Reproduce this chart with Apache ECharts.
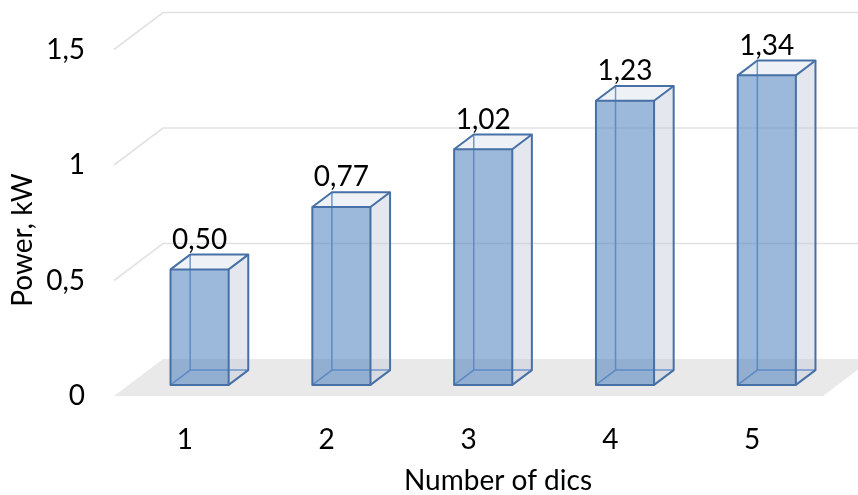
<!DOCTYPE html>
<html>
<head>
<meta charset="utf-8">
<script src="https://cdn.jsdelivr.net/npm/echarts@6/dist/echarts.min.js"></script>
<style>
  html, body { margin: 0; padding: 0; background: #fff; }
  #chart { width: 858px; height: 495px; }
</style>
</head>
<body>
<div id="chart"></div>
<script>
// Discs vs. power
const categories = ['1', '2', '3', '4', '5'];
const power = [0.50, 0.77, 1.02, 1.23, 1.34];
const yTicks = [0, 0.5, 1, 1.5];

// Pseudo-3D layout: a full-depth offset of the floor, and where the boxes sit in it
const DEPTH = [49, -37];
const BAR_FRONT = 0.3;
const BAR_BACK = 0.7;
const BAR_WIDTH_RATIO = 0.41;
const FONT = 'Lato';

const comma = v => String(v).replace('.', ',');

function shift(p, t) {
  return [p[0] + DEPTH[0] * t, p[1] + DEPTH[1] * t];
}

function renderFloor(params, api) {
  const cs = params.coordSys;
  const y0 = api.coord([0, 0])[1];
  const fl = [cs.x, y0], fr = [cs.x + cs.width, y0];
  return {
    type: 'polygon',
    shape: { points: [fl, fr, shift(fr, 1), shift(fl, 1)] },
    style: { fill: '#e9e9e9' }
  };
}

function renderGridLine(params, api) {
  const cs = params.coordSys;
  const y = api.coord([0, api.value(1)])[1];
  const a = [cs.x, y];
  const b = shift(a, 1);
  return {
    type: 'polyline',
    shape: { points: [a, b, [cs.x + cs.width + DEPTH[0], b[1]]] },
    style: { stroke: '#e2e2e2', lineWidth: 1.6, fill: null }
  };
}

function renderBox(params, api) {
  const i = api.value(0), v = api.value(1);
  const top = api.coord([i, v]);
  const base = api.coord([i, 0]);
  const half = api.size([1, 0])[0] * BAR_WIDTH_RATIO / 2;
  const x0 = top[0] - half, x1 = top[0] + half;

  const FLB = shift([x0, base[1]], BAR_FRONT), FRB = shift([x1, base[1]], BAR_FRONT);
  const FRT = shift([x1, top[1]], BAR_FRONT), FLT = shift([x0, top[1]], BAR_FRONT);
  const BLB = shift([x0, base[1]], BAR_BACK), BRB = shift([x1, base[1]], BAR_BACK);
  const BRT = shift([x1, top[1]], BAR_BACK), BLT = shift([x0, top[1]], BAR_BACK);

  const edge = { stroke: '#4670a6', lineWidth: 2, fill: null, lineJoin: 'round' };
  const inner = { stroke: '#6f97cc', lineWidth: 1.5, fill: null };

  return {
    type: 'group',
    children: [
      { type: 'polygon', shape: { points: [FRB, BRB, BRT, FRT] },
        style: { fill: 'rgba(196,202,214,0.45)' } },
      { type: 'polygon', shape: { points: [FLT, FRT, BRT, BLT] },
        style: { fill: 'rgba(200,208,222,0.3)' } },
      { type: 'polyline', shape: { points: [FLB, BLB, BRB] }, style: inner },
      { type: 'polyline', shape: { points: [BLB, BLT] }, style: inner },
      { type: 'polygon', shape: { points: [FLB, FRB, FRT, FLT] },
        style: { fill: 'rgba(79,129,189,0.56)' } },
      { type: 'polygon', shape: { points: [FLB, FRB, FRT, FLT] }, style: edge },
      { type: 'polyline', shape: { points: [FLT, BLT, BRT, FRT] }, style: edge },
      { type: 'polyline', shape: { points: [BRT, BRB, FRB] }, style: edge },
      { type: 'text',
        style: {
          text: api.value(1).toFixed(2).replace('.', ','),
          x: (FLT[0] + FRT[0]) / 2, y: BLT[1] - 1,
          align: 'center', verticalAlign: 'bottom',
          fontSize: 28, fontFamily: FONT, fill: '#000'
        } }
    ]
  };
}

const chart = echarts.init(document.getElementById('chart'), null, { renderer: 'canvas' });
chart.setOption({
  animation: false,
  textStyle: { fontFamily: FONT },
  grid: { left: 114, right: 35, top: 49.5, bottom: 99, containLabel: false },
  xAxis: {
    type: 'category',
    data: categories,
    boundaryGap: true,
    axisLine: { show: false },
    axisTick: { show: false },
    splitLine: { show: false },
    axisLabel: { fontSize: 28, color: '#000', margin: 30, fontFamily: FONT }
  },
  yAxis: {
    type: 'value',
    min: 0, max: 1.5, interval: 0.5,
    axisLine: { show: false },
    axisTick: { show: false },
    splitLine: { show: false },
    axisLabel: { fontSize: 28, color: '#000', margin: 29, fontFamily: FONT, formatter: comma }
  },
  graphic: [
    { type: 'text', x: 498, y: 481,
      style: { text: 'Number of dics', fontSize: 28, fontFamily: FONT, fill: '#000',
               align: 'center', verticalAlign: 'middle' } },
    { type: 'text', x: 23, y: 240, rotation: Math.PI / 2,
      style: { text: 'Power, kW', fontSize: 28, fontFamily: FONT, fill: '#000',
               align: 'center', verticalAlign: 'middle' } }
  ],
  series: [
    { type: 'custom', name: 'floor', silent: true, z: 1,
      renderItem: renderFloor, data: [[0, 0]] },
    { type: 'custom', name: 'grid', silent: true, z: 1,
      renderItem: renderGridLine,
      data: yTicks.filter(v => v > 0).map(v => [0, v]) },
    { type: 'custom', name: 'Power', z: 2,
      renderItem: renderBox,
      encode: { x: 0, y: 1 },
      data: power.map((v, i) => [i, v]) }
  ]
});
</script>
</body>
</html>
